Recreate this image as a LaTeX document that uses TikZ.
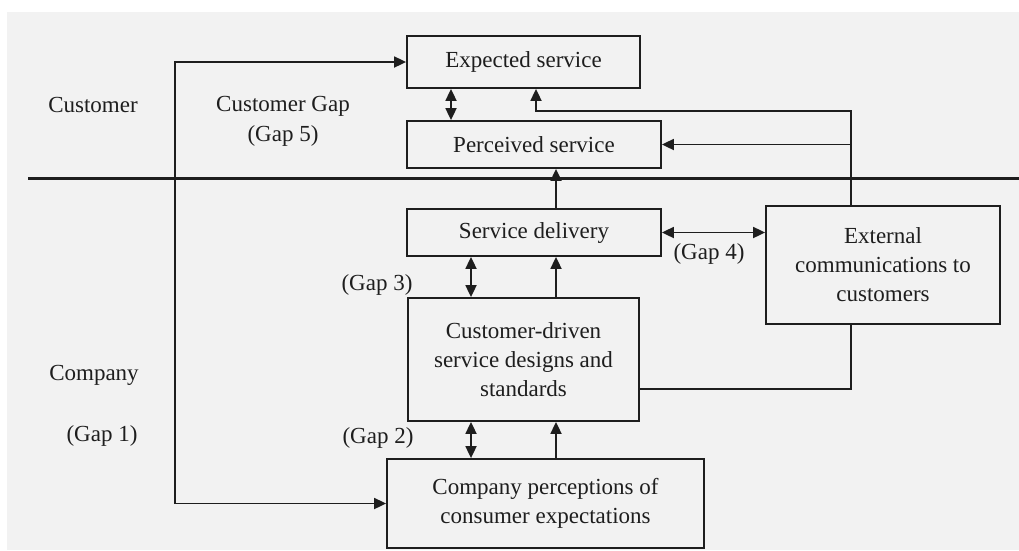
\documentclass[tikz,border=0pt]{standalone}
\usepackage{fontspec}
\setmainfont{Liberation Serif}
\usepackage{xcolor}
\usetikzlibrary{arrows.meta,calc}
\definecolor{GapInk}{RGB}{30,30,30}
\definecolor{GapPaper}{RGB}{242,242,242}

\begin{document}
\begin{tikzpicture}[
    x=1pt,y=-1pt,
    box/.style={draw=GapInk, line width=1.8pt, fill=GapPaper, align=center, inner sep=0pt, text=GapInk, font=\fontsize{23}{29}\selectfont},
    side/.style={align=center, text=GapInk, font=\fontsize{23}{30}\selectfont},
    wire/.style={draw=GapInk, line width=1.8pt},
    arr/.style={wire, -{Triangle[length=12pt,width=11pt]}},
    dbl/.style={wire, {Triangle[length=12pt,width=11pt]}-{Triangle[length=12pt,width=11pt]}}
  ]
    \useasboundingbox (0,0) rectangle (1019,550);
    \fill[white] (0,0) rectangle (1019,550);
    \fill[GapPaper] (7,12) rectangle (1019,550);
    % boxes
    \foreach \x/\y/\w/\h/\name/\lab in {523.5/62/233/52/expected/Expected service,
        534/144.5/254/47/perceived/Perceived service,
        534/232.5/254/47/delivery/Service delivery,
        883/265/234/118/external/{External\\communications to\\customers},
        523.5/359.5/231/123/designs/{Customer-driven\\service designs and\\standards},
        545.5/503.5/317/89/cperc/{Company perceptions of\\consumer expectations}} {
      \node[box, minimum width=\w pt, minimum height=\h pt] (\name) at (\x,\y) {\lab};
    }
    % divider between customer and company
    \coordinate (divl) at (28,178);
    \coordinate (divr) at (1019,178);
    \draw[draw=GapInk, line width=3pt] (divl) -- (divr);
    % columns of the vertical links
    \coordinate (gapcol) at (451,0);
    \coordinate (dblcol) at (471,0);
    \coordinate (upcol) at (556,0);
    \coordinate (fbcol) at (536,111);
    \coordinate (extcol) at (851,389);
    % side texts
    \node[side] (customer) at (93,105) {Customer};
    \node[side] (custgap) at (283,121) {Customer Gap\\(Gap 5)};
    \node[side] (company) at (94,375) {Company};
    \node[side] (gap1) at (102,436) {(Gap 1)};
    \node[side] (gap3) at (377,285) {(Gap 3)};
    \node[side] (gap2) at (378,438) {(Gap 2)};
    \node[side] (gap4) at (709,254) {(Gap 4)};
    % connectors
    \draw[dbl] (expected.west) -- ++(-231,0) |- (cperc.west);
    \draw[dbl] (expected.south -| gapcol) -- (perceived.north -| gapcol);
    \draw[arr] (delivery.north -| upcol) -- (perceived.south -| upcol);
    \draw[arr] (external.north -| extcol) |- (perceived.east);
    \draw[arr] (external.north -| extcol) |- (fbcol) -- (expected.south -| fbcol);
    \draw[dbl] (delivery.east) -- (delivery.east -| external.west);
    \draw[dbl] (delivery.south -| dblcol) -- (designs.north -| dblcol);
    \draw[arr] (designs.north -| upcol) -- (delivery.south -| upcol);
    \draw[wire] (designs.east |- extcol) -- (extcol) -- (external.south -| extcol);
    \draw[dbl] (designs.south -| dblcol) -- (cperc.north -| dblcol);
    \draw[arr] (cperc.north -| upcol) -- (designs.south -| upcol);
  \end{tikzpicture}
\end{document}
